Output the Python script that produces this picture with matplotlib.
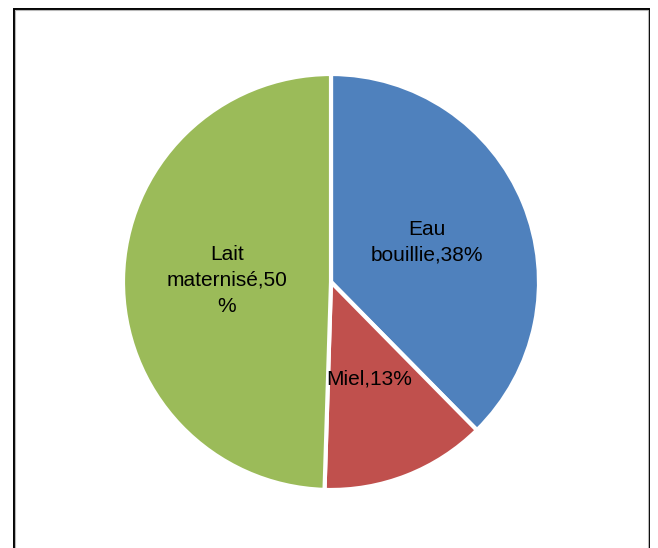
import matplotlib
matplotlib.use("Agg")
import matplotlib.pyplot as plt
from matplotlib.patches import Rectangle

# Slice data, clockwise from 12 o'clock
names = ["Eau bouillie", "Miel", "Lait maternisé"]
values = [38, 13, 50]
label_formats = ["Eau\nbouillie,{}%", "Miel,{}%", "Lait\nmaternisé,{}\n%"]
colors = ["#4F81BD", "#C0504D", "#9BBB59"]

W, H = 658, 548
DPI = 100

fig = plt.figure(figsize=(W / DPI, H / DPI), dpi=DPI)
fig.patch.set_facecolor("white")

# Chart frame: dark outer line with a light grey line just inside it
fig.patches.append(Rectangle((13.5 / W, -0.05), (649 - 13.5) / W, 1.05 - 8.5 / H,
                             transform=fig.transFigure, fill=False,
                             edgecolor="black", linewidth=1.4))
fig.patches.append(Rectangle((15 / W, -0.05), (647.5 - 15) / W, 1.05 - 10 / H,
                             transform=fig.transFigure, fill=False,
                             edgecolor="#b8b8b8", linewidth=0.8))

# Square axes holding the pie (centre at 331, 282 px from top-left, radius 208 px)
cx, cy, r = 331, H - 282, 208
ax = fig.add_axes([(cx - r) / W, (cy - r) / H, 2 * r / W, 2 * r / H])

labels = [fmt.format(v) for fmt, v in zip(label_formats, values)]
wedges, texts = ax.pie(values, colors=colors, startangle=90, counterclock=False,
                       labels=labels, labeldistance=0.5, radius=1,
                       wedgeprops=dict(edgecolor="white", linewidth=3),
                       textprops=dict(fontsize=15, family="Liberation Sans",
                                      color="black"))
for t in texts:
    t.set_horizontalalignment("center")
    t.set_verticalalignment("center")
    t.set_multialignment("center")
    t.set_linespacing(1.45)

ax.set_xlim(-1, 1)
ax.set_ylim(-1, 1)
ax.set_axis_off()

fig.savefig("out.png", dpi=DPI)
